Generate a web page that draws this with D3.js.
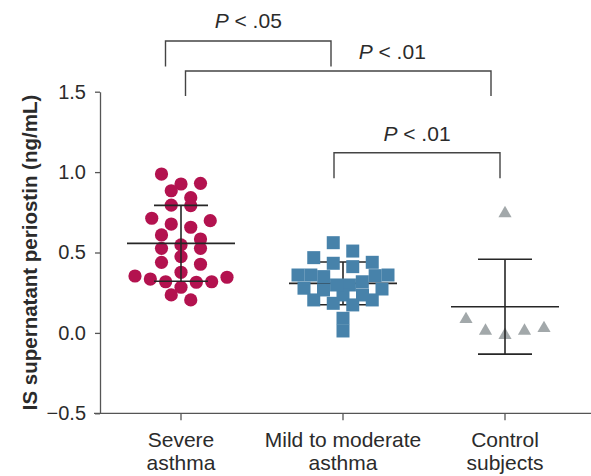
<!DOCTYPE html>
<html>
<head>
<meta charset="utf-8">
<script src="https://cdn.jsdelivr.net/npm/d3@7"></script>
<style>
  html, body { margin: 0; padding: 0; background: #fff; }
  svg { display: block; }
  text { font-family: "Liberation Sans", Arial, Helvetica, sans-serif; fill: #2b2b2b; }
</style>
</head>
<body>
<svg id="chart" width="591" height="476"></svg>
<script>
// ---------------- data ----------------
const categories = ["Severe asthma", "Mild to moderate asthma", "Control subjects"];
const categoryLines = [["Severe", "asthma"], ["Mild to moderate", "asthma"], ["Control", "subjects"]];

const severeValues = [0.988, 0.930, 0.926, 0.884, 0.841, 0.791, 0.795, 0.698, 0.713, 0.657,
  0.677, 0.609, 0.584, 0.526, 0.526, 0.547, 0.474, 0.439, 0.427, 0.377,
  0.318, 0.346, 0.284, 0.335, 0.315, 0.354, 0.318, 0.205, 0.236];
const mildValues = [0.561, 0.509, 0.468, 0.439, 0.412, 0.433, 0.356, 0.350, 0.360, 0.360,
  0.360, 0.318, 0.298, 0.278, 0.273, 0.236, 0.205, 0.184, 0.174, 0.205,
  0.236, 0.267, 0.298, 0.091, 0.012];
const controlValues = [0.743, 0.085, 0.012, -0.014, 0.012, 0.029];

const groupMeans = [0.557, 0.308, 0.163];
const groupSDs = [0.236, 0.133, 0.295];

const yTicks = [-0.5, 0.0, 0.5, 1.0, 1.5];

const comparisons = [
  { from: 0, to: 1, label: ".05" },
  { from: 0, to: 2, label: ".01" },
  { from: 1, to: 2, label: ".01" }
];

// ---------------- layout ----------------
const svg = d3.select("#chart");
const plotLeft = 100, plotRight = 586;
const y = d3.scaleLinear().domain([-0.5, 1.5]).range([413.3, 91.7]);
const x = d3.scaleBand().domain(categories).range([plotLeft, plotRight]).padding(0);
const cx = c => x(c) + x.bandwidth() / 2;

const colors = ["#b3124f", "#4782aa", "#a2a8aa"];
const lineColor = "#262626";

// Prism-like row scatter: cluster values into rows, spread each row horizontally
function rowScatter(values, center, rowH, maxStep, maxWidth) {
  const nodes = values.map(v => ({ v, py: y(v) }));
  const sorted = nodes.slice().sort((a, b) => a.py - b.py);
  const rows = [];
  let cur = null;
  sorted.forEach(n => {
    if (!cur || n.py - cur.start > rowH) { cur = { start: n.py, items: [] }; rows.push(cur); }
    cur.items.push(n);
  });
  rows.forEach(r => {
    const arr = r.items;
    arr.sort((a, b) => a.v - b.v);
    const n = arr.length;
    const step = n > 1 ? Math.min(maxStep, maxWidth / (n - 1)) : 0;
    const slots = d3.range(n).map(i => (i - (n - 1) / 2) * step)
      .sort((a, b) => Math.abs(a) - Math.abs(b) || b - a);
    arr.forEach((d, i) => { d.px = center + slots[i]; });
  });
  return nodes;
}

// ---------------- axes ----------------
const yAxis = d3.axisLeft(y).tickValues(yTicks).tickFormat(d3.format(".1f"))
  .tickSize(5).tickSizeOuter(0).tickPadding(9);
const gy = svg.append("g").attr("transform", `translate(${plotLeft},0)`).call(yAxis);
gy.select(".domain").attr("stroke", "#555").attr("stroke-width", 1.3);
gy.selectAll(".tick line").attr("stroke", "#555").attr("stroke-width", 1.3);
gy.selectAll(".tick text").attr("font-size", 20).style("fill", "#2b2b2b")
  .attr("font-family", "Liberation Sans, Arial, sans-serif");

const xAxis = d3.axisBottom(x).tickSize(7).tickSizeOuter(0).tickFormat("");
const gx = svg.append("g").attr("transform", `translate(0,${y(-0.5)})`).call(xAxis);
gx.select(".domain").attr("d", "M94,0H591").attr("stroke", "#555").attr("stroke-width", 1.3);
gx.selectAll(".tick line").attr("stroke", "#555").attr("stroke-width", 1.3);
gx.selectAll(".tick").each(function (d, i) {
  const t = d3.select(this).append("text").attr("text-anchor", "middle")
    .attr("font-size", 21).style("fill", "#2b2b2b");
  categoryLines[i].forEach((ln, j) => {
    t.append("tspan").attr("x", 0).attr("y", 34 + j * 23).text(ln);
  });
});

svg.append("text")
  .attr("transform", `translate(37,${(y(1.5) + y(-0.5)) / 2}) rotate(-90)`)
  .attr("text-anchor", "middle")
  .attr("font-size", 20.5).attr("font-weight", "bold")
  .text("IS supernatant periostin (ng/mL)");

// ---------------- points + error bars ----------------
const severeNodes = rowScatter(severeValues, cx(categories[0]), 13, 19.5, 92);
const mildNodes = rowScatter(mildValues, cx(categories[1]), 11, 19.5, 90);
const controlNodes = rowScatter(controlValues, cx(categories[2]), 20, 19.5, 90);

function errorBars(i) {
  const c = cx(categories[i]);
  const g = svg.append("g").attr("stroke", lineColor).attr("stroke-width", 1.6);
  const m = groupMeans[i], s = groupSDs[i];
  g.append("line").attr("x1", c - 54).attr("x2", c + 54).attr("y1", y(m)).attr("y2", y(m));
  g.append("line").attr("x1", c).attr("x2", c).attr("y1", y(m + s)).attr("y2", y(m - s));
  g.append("line").attr("x1", c - 27).attr("x2", c + 27).attr("y1", y(m + s)).attr("y2", y(m + s));
  g.append("line").attr("x1", c - 27).attr("x2", c + 27).attr("y1", y(m - s)).attr("y2", y(m - s));
}

// severe: circles
svg.append("g").selectAll("circle").data(severeNodes).join("circle")
  .attr("cx", d => d.px).attr("cy", d => d.py).attr("r", 6.6).attr("fill", colors[0]);
errorBars(0);

// mild: squares (drawn over error bars)
errorBars(1);
svg.append("g").selectAll("rect").data(mildNodes).join("rect")
  .attr("x", d => d.px - 6.5).attr("y", d => d.py - 6.5)
  .attr("width", 13).attr("height", 13).attr("fill", colors[1]);

// control: triangles
const tri = d3.symbol().type(d3.symbolTriangle).size(75);
svg.append("g").selectAll("path").data(controlNodes).join("path")
  .attr("d", tri).attr("transform", d => `translate(${d.px},${d.py})`).attr("fill", colors[2]);
errorBars(2);

// ---------------- significance brackets ----------------
const bracketGeom = [
  { l: -15.5, r: -12, top: 41, drop: 25.5, tx: 0, ty: -13 },
  { l: 4.5, r: -14, top: 71, drop: 25, tx: 54, ty: -12 },
  { l: -9, r: -5, top: 152.7, drop: 25.5, tx: 0, ty: -12 }
];
comparisons.forEach((c, i) => {
  const g = bracketGeom[i];
  const x1 = cx(categories[c.from]) + g.l, x2 = cx(categories[c.to]) + g.r;
  svg.append("path")
    .attr("d", `M${x1},${g.top + g.drop}V${g.top}H${x2}V${g.top + g.drop}`)
    .attr("fill", "none").attr("stroke", "#444").attr("stroke-width", 1.4);
  const t = svg.append("text").attr("x", (x1 + x2) / 2 + g.tx).attr("y", g.top + g.ty)
    .attr("text-anchor", "middle").attr("font-size", 21);
  t.append("tspan").attr("font-style", "italic").text("P");
  t.append("tspan").text(" < " + c.label);
});
</script>
</body>
</html>
